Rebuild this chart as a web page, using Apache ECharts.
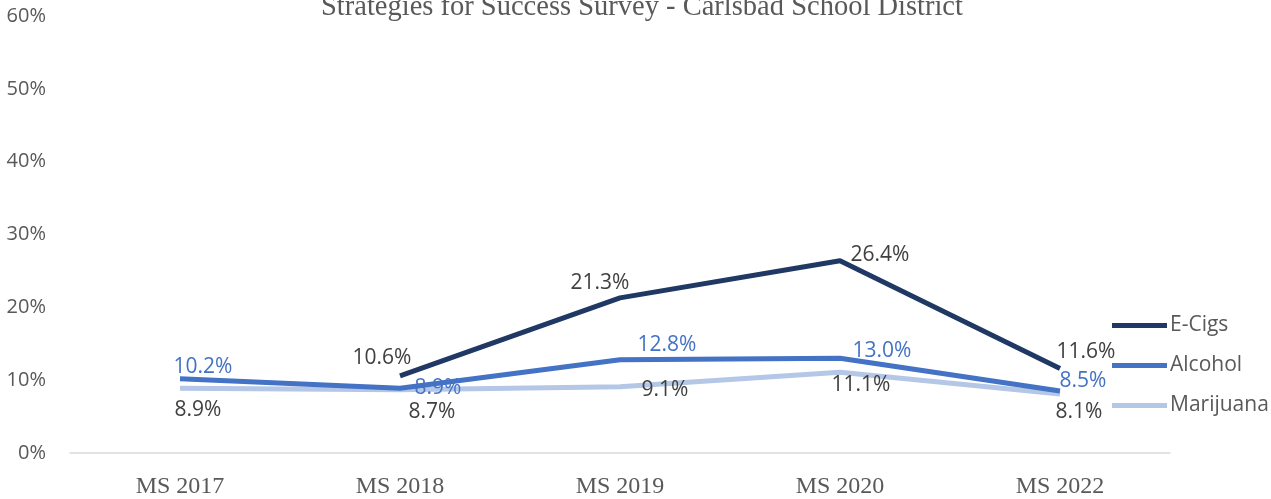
<!DOCTYPE html>
<html>
<head>
<meta charset="utf-8">
<script src="https://cdn.jsdelivr.net/npm/echarts@6/dist/echarts.min.js"></script>
<style>
  html, body { margin: 0; padding: 0; background: #fff; }
  #chart { width: 1271px; height: 499px; }
</style>
</head>
<body>
<div id="chart"></div>
<script>
var categories = ['MS 2017', 'MS 2018', 'MS 2019', 'MS 2020', 'MS 2022'];
var eCigs = [null, 10.6, 21.3, 26.4, 11.6];
var alcohol = [10.2, 8.9, 12.8, 13.0, 8.5];
var marijuana = [8.9, 8.7, 9.1, 11.1, 8.1];
var yTicks = [0, 10, 20, 30, 40, 50, 60];

// label offsets per point, [dx, dy] from the point
var eCigsOffsets = [[0, 0], [-18, -18], [-20, -15], [40, -6], [26, -16]];
var alcoholOffsets = [[23, -12], [38, 0], [47, -15], [42, -7], [23, -10]];
var marijuanaOffsets = [[18, 22], [32, 22], [45, 3], [21, 13], [19, 18]];

function withLabels(values, offsets, color) {
    return values.map(function (v, i) {
        if (v === null) return null;
        return {
            value: v,
            label: {
                show: true,
                position: 'inside',
                offset: offsets[i],
                color: color,
                fontFamily: 'Open Sans',
                fontSize: 21,
                formatter: function (p) { return p.value.toFixed(1) + '%'; }
            }
        };
    });
}

var myChart = echarts.init(document.getElementById('chart'));

function lineSeries(name, values, offsets, lineColor, labelColor, z) {
    return {
        name: name,
        type: 'line',
        data: withLabels(values, offsets, labelColor),
        symbol: 'circle',
        symbolSize: 0,
        showSymbol: true,
        lineStyle: { width: 5, color: lineColor },
        itemStyle: { color: lineColor },
        z: z
    };
}

var option = {
    animation: false,
    title: {
        text: 'Strategies for Success Survey - Carlsbad School District',
        left: 316,
        top: -12,
        textStyle: {
            fontFamily: 'Liberation Serif',
            fontWeight: 'normal',
            fontSize: 28.5,
            color: '#595959'
        }
    },
    grid: { left: 70, right: 101, top: 16, bottom: 41, containLabel: false },
    legend: {
        orient: 'vertical',
        left: 1112,
        top: 315,
        padding: 0,
        itemGap: 19,
        itemWidth: 55,
        itemHeight: 5,
        icon: 'rect',
        textStyle: { fontFamily: 'Open Sans', fontSize: 21, color: '#595959', padding: [0, 0, 0, -2] },
        data: ['E-Cigs', 'Alcohol', 'Marijuana']
    },
    xAxis: {
        type: 'category',
        data: categories,
        boundaryGap: true,
        axisLine: { lineStyle: { color: '#D9D9D9', width: 1.5 } },
        axisTick: { show: false },
        axisLabel: {
            margin: 22,
            fontFamily: 'Liberation Serif',
            fontSize: 24,
            color: '#595959'
        }
    },
    yAxis: {
        type: 'value',
        min: yTicks[0],
        max: yTicks[yTicks.length - 1],
        interval: 10,
        splitLine: { show: false },
        axisLine: { show: false },
        axisTick: { show: false },
        axisLabel: {
            margin: 24,
            fontFamily: 'Open Sans',
            fontSize: 20,
            color: '#595959',
            formatter: '{value}%'
        }
    },
    series: [
        lineSeries('E-Cigs', eCigs, eCigsOffsets, '#1F3864', '#404040', 3),
        lineSeries('Alcohol', alcohol, alcoholOffsets, '#4472C4', '#4472C4', 2),
        lineSeries('Marijuana', marijuana, marijuanaOffsets, '#B4C7E7', '#404040', 1)
    ]
};

myChart.setOption(option);
</script>
</body>
</html>
